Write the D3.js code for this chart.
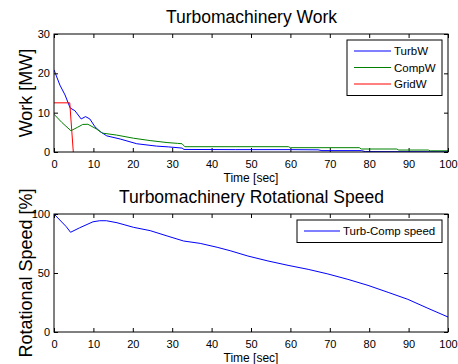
<!DOCTYPE html>
<html>
<head>
<meta charset="utf-8">
<script src="https://cdn.jsdelivr.net/npm/d3@7"></script>
<style>
  body { margin: 0; background: #fff; }
  text { font-family: "Liberation Sans", Arial, sans-serif; }
</style>
</head>
<body>
<div id="chart-area"></div>
<script>
// ---- data ----
const turbT = [0, 1.5, 2.8, 4.1, 5.3, 6.9, 8, 9.1, 10.4, 11.7, 13.4, 16.8, 21, 26, 29, 32.5, 33, 46, 60, 67, 68, 78, 79, 100];
const turbW = [20.9, 17, 14.5, 11.2, 10.5, 8.4, 9, 8.4, 6.4, 5.2, 4.1, 3.3, 2.1, 1.5, 1.3, 1.0, 0.65, 0.6, 0.6, 0.55, 0.35, 0.35, 0.1, 0.05];

const compT = [0, 2, 4.3, 6, 7.3, 8.6, 10.7, 12.3, 15.9, 20.2, 24.4, 28.7, 31.3, 32.5, 33.2, 59.5, 60, 77.5, 78, 87, 87.5, 95, 95.5, 100];
const compW = [9.6, 7.5, 5.4, 6.3, 7.0, 7.05, 5.9, 4.8, 4.3, 3.5, 2.9, 2.4, 2.2, 2.1, 1.35, 1.35, 1.1, 1.1, 0.76, 0.76, 0.5, 0.5, 0.3, 0.3];

const gridT = [0, 4.0, 4.9];
const gridW = [12.5, 12.5, 0];

const speedT = [0, 3.1, 4.2, 6.5, 9.9, 11.6, 13.3, 16, 20.2, 24.4, 28.7, 32.9, 37.1, 41.4, 44.7, 49.2, 54.3, 59.4, 64.5, 69.5, 74.6, 79.7, 84.8, 89.8, 94.9, 100];
const speed = [100, 89.3, 84.5, 88.3, 93.4, 94.3, 94.3, 92.6, 88.7, 85.9, 81.4, 77.1, 75.1, 71.8, 68.9, 64.4, 60.2, 56.5, 53.1, 49.2, 44.6, 39.5, 33.6, 27.7, 20.1, 12.7];

const xTicks = [0, 10, 20, 30, 40, 50, 60, 70, 80, 90, 100];
const workTicks = [0, 10, 20, 30];
const speedTicks = [0, 50, 100];

const workSeries = [
  { name: "TurbW", t: turbT, v: turbW, color: "#0000ff" },
  { name: "CompW", t: compT, v: compW, color: "#008000" },
  { name: "GridW", t: gridT, v: gridW, color: "#ff0000" }
];
const speedSeries = [
  { name: "Turb-Comp speed", t: speedT, v: speed, color: "#0000ff" }
];

// ---- layout ----
const canvasWidth = 458;
const canvasHeight = 364;
const plotLeft = 54, plotRight = 448;

const svg = d3.select("#chart-area").append("svg")
  .attr("width", canvasWidth).attr("height", canvasHeight);

function drawPanel(cfg) {
  const x = d3.scaleLinear().domain([0, 100]).range([plotLeft, plotRight]);
  const y = d3.scaleLinear().domain(cfg.yDomain).range([cfg.bottom, cfg.top]);
  const g = svg.append("g");

  // axes with inward ticks on all four sides
  const tick = 4;
  g.append("g").attr("transform", `translate(0, ${cfg.bottom})`)
    .call(d3.axisBottom(x).tickValues(xTicks).tickSizeInner(-tick).tickSizeOuter(0).tickPadding(8));
  g.append("g").attr("transform", `translate(0, ${cfg.top})`)
    .call(d3.axisTop(x).tickValues(xTicks).tickSizeInner(-tick).tickSizeOuter(0).tickFormat(""));
  g.append("g").attr("transform", `translate(${plotLeft}, 0)`)
    .call(d3.axisLeft(y).tickValues(cfg.yTicks).tickSizeInner(-tick).tickSizeOuter(0).tickPadding(4));
  g.append("g").attr("transform", `translate(${plotRight}, 0)`)
    .call(d3.axisRight(y).tickValues(cfg.yTicks).tickSizeInner(-tick).tickSizeOuter(0).tickFormat(""));
  g.selectAll(".domain").remove();
  g.selectAll(".tick text").attr("font-size", "11px").attr("fill", "#000")
    .attr("font-family", "'Liberation Sans', Arial, sans-serif");
  g.selectAll(".tick line").attr("stroke", "#000");

  // lines
  const clipId = "clip" + cfg.top;
  svg.append("clipPath").attr("id", clipId).append("rect")
    .attr("x", plotLeft).attr("y", cfg.top).attr("width", plotRight - plotLeft).attr("height", cfg.bottom - cfg.top);
  const line = d3.line().x(d => x(d[0])).y(d => y(d[1]));
  cfg.series.forEach(s => {
    g.append("path")
      .attr("clip-path", `url(#${clipId})`)
      .attr("d", line(s.t.map((t, i) => [t, s.v[i]])))
      .attr("fill", "none").attr("stroke", s.color).attr("stroke-width", 1);
  });

  // box
  g.append("rect").attr("x", plotLeft).attr("y", cfg.top)
    .attr("width", plotRight - plotLeft).attr("height", cfg.bottom - cfg.top)
    .attr("fill", "none").attr("stroke", "#000").attr("stroke-width", 1);

  // title and labels
  svg.append("text").attr("x", (plotLeft + plotRight) / 2 + 0.5).attr("y", cfg.top - 11.5)
    .attr("text-anchor", "middle").attr("font-size", "17.5px").text(cfg.title);
  svg.append("text").attr("x", (plotLeft + plotRight) / 2).attr("y", cfg.bottom + 29.5)
    .attr("text-anchor", "middle").attr("font-size", "12px").text("Time [sec]");
  svg.append("text")
    .attr("transform", `translate(31.5, ${(cfg.top + cfg.bottom) / 2}) rotate(-90)`)
    .attr("text-anchor", "middle").attr("font-size", "18px").text(cfg.yLabel);

  // legend
  const lg = g.append("g").attr("transform", `translate(${cfg.legend.x}, ${cfg.legend.y})`);
  lg.append("rect").attr("width", cfg.legend.w).attr("height", 6 + cfg.series.length * 16.5)
    .attr("fill", "#fff").attr("stroke", "#000");
  cfg.series.forEach((s, i) => {
    const ry = 11 + i * 16.5;
    lg.append("line").attr("x1", 7).attr("x2", 7 + cfg.legend.lineLen).attr("y1", ry).attr("y2", ry)
      .attr("stroke", s.color);
    lg.append("text").attr("x", 10 + cfg.legend.lineLen).attr("y", ry + 4)
      .attr("font-size", "11.5px").text(s.name);
  });
}

drawPanel({
  top: 34, bottom: 152, yDomain: [0, 30], yTicks: workTicks,
  series: workSeries, title: "Turbomachinery Work", yLabel: "Work [MW]",
  legend: { x: 347, y: 40, w: 95, lineLen: 37 }
});

drawPanel({
  top: 214, bottom: 332, yDomain: [0, 100], yTicks: speedTicks,
  series: speedSeries, title: "Turbomachinery Rotational Speed", yLabel: "Rotational Speed [%]",
  legend: { x: 297, y: 220, w: 145, lineLen: 36 }
});
</script>
</body>
</html>
